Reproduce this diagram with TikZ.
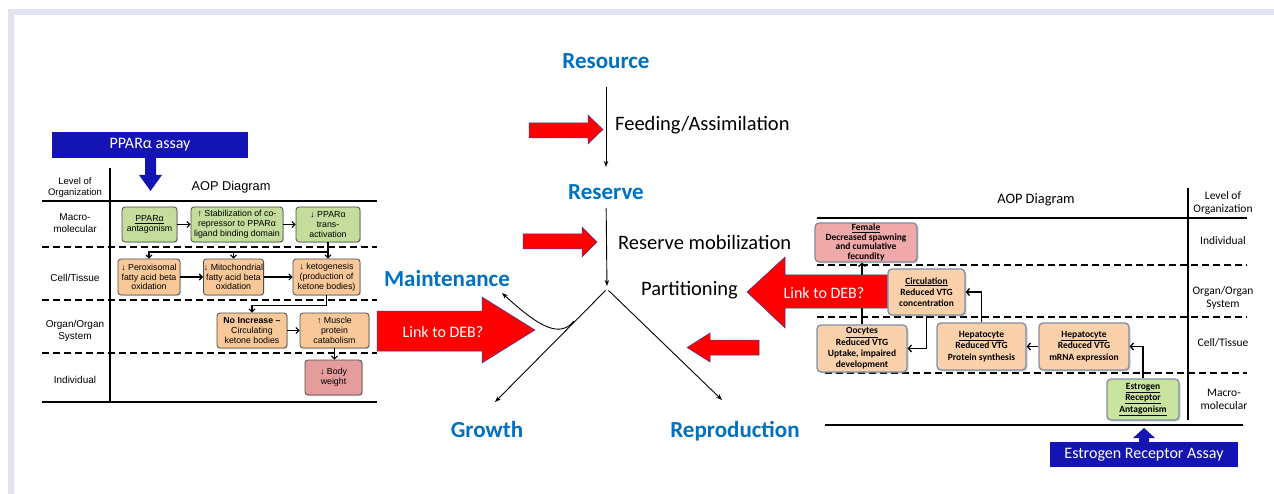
\documentclass[tikz,border=0pt]{standalone}
\usepackage{fontspec}
\setmainfont{Carlito}
\newfontfamily\arialfont{Liberation Sans}
\usetikzlibrary{arrows.meta,shadows}
\definecolor{framegray}{HTML}{E1E4F0}
\definecolor{debblue}{HTML}{0070C0}
\definecolor{arrowred}{HTML}{FF0000}
\definecolor{arrowedge}{HTML}{3C3C9C}
\definecolor{assayblue}{HTML}{1414B4}
\definecolor{aopgreen}{HTML}{C4DC9C}
\definecolor{aoporange}{HTML}{F9C898}
\definecolor{aoppink}{HTML}{E49C9C}
\definecolor{rgreen}{HTML}{C9E49E}
\definecolor{rorange}{HTML}{FAD1AA}
\definecolor{rpink}{HTML}{F0A9A9}
\definecolor{redge}{HTML}{7D8DA6}
\newcommand\upmark{\textbf{↑}}
\newcommand\downmark{\textbf{↓}}

\begin{document}
\begin{tikzpicture}[x=1pt,y=-1pt,
    debstage/.style={text=debblue,font=\fontsize{23}{27}\selectfont\bfseries,inner sep=0pt,anchor=base},
    flowtext/.style={font=\fontsize{20.5}{24}\selectfont,inner sep=0pt,anchor=base west},
    flow/.style={line width=0.9pt,-{Stealth[length=6pt,width=4.5pt]}},
    redarrow/.style={fill=arrowred,draw=arrowedge,line width=0.5pt},
    linktext/.style={text=white,font=\fontsize{16}{18}\selectfont,inner sep=0pt},
    assay/.style={fill=assayblue,text=white,font=\fontsize{16}{18}\selectfont,inner sep=0pt},
    lbox/.style={draw=black!70,line width=0.8pt,rounded corners=3pt,align=center,inner sep=0.5pt,
        font=\arialfont\fontsize{8.8}{9.8}\selectfont,
        drop shadow={shadow xshift=1pt,shadow yshift=-1pt,opacity=0.3}},
    rbox/.style={draw=redge,line width=1.3pt,rounded corners=4pt,align=center,inner sep=1pt,
        font=\fontsize{9.5}{11.3}\selectfont\bfseries,
        drop shadow={shadow xshift=1.5pt,shadow yshift=-1.5pt,opacity=0.35}},
    lrow/.style={align=center,font=\arialfont\fontsize{10}{11.5}\selectfont},
    rrow/.style={align=center,font=\fontsize{11.5}{13}\selectfont},
    aop/.style={line width=1.1pt,-{Straight Barb[length=3pt,width=6pt]}},
    rflow/.style={line width=1.3pt,-{Straight Barb[length=3pt,width=7pt]}},
    solidrule/.style={line width=1.4pt},
    dashrule/.style={line width=1.6pt,dash pattern=on 7pt off 4pt}]

    \useasboundingbox (0,0) rectangle (1274,494);

    % frame
    \fill[framegray] (8,9) rectangle (1274,15);
    \fill[framegray] (8,9) rectangle (14,494);

    % left AOP panel
    \node[assay,minimum width=196pt,minimum height=26pt] (pparassay) at (150,145) {PPARα assay};
    \fill[assayblue] (145,158) -- (156,158) -- (156,175) -- (162,175) -- (150.5,191)
        -- (139,175) -- (145,175) -- cycle;

    \node[lrow,font=\arialfont\fontsize{9.5}{11}\selectfont] (lvlL) at (75,188) {Level of\\Organization};
    \node[font=\arialfont\fontsize{12.8}{14}\selectfont] (aopL) at (231,187) {AOP Diagram};
    \draw[solidrule] (110,168) -- (110,402);
    \draw[solidrule] (42,201) -- (377,201);
    \draw[dashrule] (42,247) -- (377,247);
    \draw[dashrule] (42,300) -- (377,300);
    \draw[dashrule] (42,353) -- (377,353);
    \draw[solidrule] (42,402) -- (377,402);

    \node[lrow] (macroL) at (75,223) {Macro-\\molecular};
    \node[lrow] (cellL) at (75,278) {Cell/Tissue};
    \node[lrow] (organL) at (75,331) {Organ/Organ\\System};
    \node[lrow] (indivL) at (75,380) {Individual};

    \node[lbox,fill=aopgreen,minimum width=55pt,minimum height=35pt] (antag) at (149.5,224.5) {\underline{PPARα}\\antagonism};
    \node[lbox,fill=aopgreen,minimum width=92pt,minimum height=35pt] (stab) at (237,224.5) {\upmark\ Stabilization of co-\\repressor to PPARα\\ligand binding domain};
    \node[lbox,fill=aopgreen,minimum width=64pt,minimum height=35pt] (transact) at (328,224.5) {\downmark\ PPARα\\trans-\\activation};
    \node[lbox,fill=aoporange,minimum width=62pt,minimum height=36pt] (perox) at (149,277) {\downmark\ Peroxisomal\\fatty acid beta\\oxidation};
    \node[lbox,fill=aoporange,minimum width=59pt,minimum height=36pt] (mito) at (233.5,277) {\downmark\ Mitochondrial\\fatty acid beta\\oxidation};
    \node[lbox,fill=aoporange,minimum width=67pt,minimum height=36pt] (keto) at (326.5,277) {\downmark\ ketogenesis\\(production of\\ketone bodies)};
    \node[lbox,fill=aoporange,minimum width=70pt,minimum height=35pt] (noinc) at (252,330.5) {\textbf{No Increase –}\\Circulating\\ketone bodies};
    \node[lbox,fill=aoporange,minimum width=69pt,minimum height=35pt] (muscle) at (334.5,330.5) {\upmark\ Muscle\\protein\\catabolism};
    \node[lbox,fill=aoppink,minimum width=57pt,minimum height=35pt] (bodyw) at (333.5,377.5) {\downmark\ Body\\weight};

    \coordinate (fanL) at (328,252);
    \draw[aop] (antag) -- (stab);
    \draw[aop] (stab) -- (transact);
    \draw[aop] (transact) -- (transact.south |- keto.north);
    \draw[aop] (fanL) -| (perox.north);
    \draw[aop] (fanL -| mito.north) -- (mito.north);
    \draw[aop] (perox) -- (mito);
    \draw[aop] (mito) -- (keto);
    \draw[aop] (keto.south) -- ++(0,10) -| (noinc.north);
    \draw[aop] (noinc) -- (muscle);
    \draw[aop] (muscle.south) -- (muscle.south |- bodyw.north);

    % right AOP panel
    \node[rrow,font=\fontsize{14.4}{16}\selectfont] (aopR) at (1036,200) {AOP Diagram};
    \node[rrow] (lvlR) at (1223,203) {Level of\\Organization};
    \draw[solidrule] (1188,188) -- (1188,420);
    \draw[solidrule] (817,218) -- (1247,218);
    \draw[dashrule] (817,265) -- (1247,265);
    \draw[dashrule] (817,317) -- (1247,317);
    \draw[dashrule] (825,373) -- (1247,373);
    \draw[solidrule] (825,425) -- (1243,425);

    \node[rrow] (indivR) at (1223,241) {Individual};
    \node[rrow] (organR) at (1223,298) {Organ/Organ\\System};
    \node[rrow] (cellR) at (1223,343) {Cell/Tissue};
    \node[rrow] (macroR) at (1224,399) {Macro-\\molecular};

    \node[rbox,fill=rpink,minimum width=102pt,minimum height=39pt,font=\fontsize{9.5}{9.7}\selectfont\bfseries,inner sep=0pt] (female) at (866,242.5) {\underline{Female}\\Decreased spawning\\and cumulative\\fecundity};
    \node[rbox,fill=rorange,minimum width=77pt,minimum height=46pt] (circ) at (926.5,292) {\underline{Circulation}\\Reduced VTG\\concentration};
    \node[rbox,fill=rorange,minimum width=90pt,minimum height=47pt] (oocyte) at (862,348.5) {\underline{Oocytes}\\Reduced VTG\\Uptake, impaired\\development};
    \node[rbox,fill=rorange,minimum width=89pt,minimum height=47pt] (hepprot) at (981.5,346.5) {\underline{Hepatocyte}\\Reduced VTG\\Protein synthesis};
    \node[rbox,fill=rorange,minimum width=90pt,minimum height=47pt] (hepmrna) at (1084,346.5) {\underline{Hepatocyte}\\Reduced VTG\\mRNA expression};
    \node[rbox,fill=rgreen,minimum width=72pt,minimum height=41pt] (erant) at (1143,399.5) {\underline{Estrogen}\\\underline{Receptor}\\\underline{Antagonism}};

    \draw[rflow] (erant.north) |- (hepmrna.east);
    \draw[rflow] (hepmrna) -- (hepprot);
    \draw[rflow] (hepprot.north) |- (circ.east);
    \draw[rflow] (circ.south) |- (oocyte.east);
    \draw[rflow] (oocyte.north) -- (oocyte.north |- female.south);

    \node[assay,minimum width=188pt,minimum height=25pt] (erassay) at (1144,454.5) {Estrogen Receptor Assay};
    \fill[assayblue] (1139,442) -- (1139,438) -- (1133,438) -- (1144,428) -- (1155,438)
        -- (1149,438) -- (1149,442) -- cycle;

    % DEB scheme
    \node[debstage] (resource) at (606,69) {Resource};
    \node[debstage] (reserve) at (606,200) {Reserve};
    \node[debstage] (maint) at (447,287) {Maintenance};
    \node[debstage] (growth) at (487,437) {Growth};
    \node[debstage] (repro) at (735,437) {Reproduction};
    \node[flowtext] (feeding) at (615,131) {Feeding/Assimilation};
    \node[flowtext] (mobil) at (618,250) {Reserve mobilization};
    \node[flowtext] (partit) at (641,296) {Partitioning};

    \coordinate (split) at (607,289);
    \coordinate (gtip) at (495,402);
    \coordinate (rtip) at (722,400);
    \coordinate (mstart) at (574,321);
    \coordinate (mtip) at (502,293);
    \draw[flow,shorten <=18pt,shorten >=18pt] (resource) -- (reserve);
    \draw[flow,shorten <=8pt,shorten >=3pt] (reserve) -- (split);
    \draw[flow,shorten <=2pt] (split) -- (gtip);
    \draw[flow,shorten <=2pt] (split) -- (rtip);
    \draw[flow] (mstart) .. controls (560,338) and (540,328) .. (mtip);

    % red arrows
    \draw[redarrow] (529,123) -- (588,123) -- (588,115) -- (603,129.5) -- (588,144) -- (588,138) -- (529,138) -- cycle;
    \draw[redarrow] (523,234) -- (582,234) -- (582,227) -- (597,242) -- (582,257) -- (582,249) -- (523,249) -- cycle;
    \draw[redarrow] (759,340) -- (710,340) -- (710,333) -- (687,347.5) -- (710,362) -- (710,355) -- (759,355) -- cycle;
    \draw[redarrow] (377,311) -- (482,311) -- (482,297) -- (535,330) -- (482,363) -- (482,351) -- (377,351) -- cycle;
    \draw[redarrow] (887,275) -- (785,275) -- (785,257) -- (747,292) -- (785,328) -- (785,308) -- (887,308) -- cycle;
    \node[linktext] (linkL) at (443,332) {Link to DEB?};
    \node[linktext] (linkR) at (824,293) {Link to DEB?};
\end{tikzpicture}
\end{document}
